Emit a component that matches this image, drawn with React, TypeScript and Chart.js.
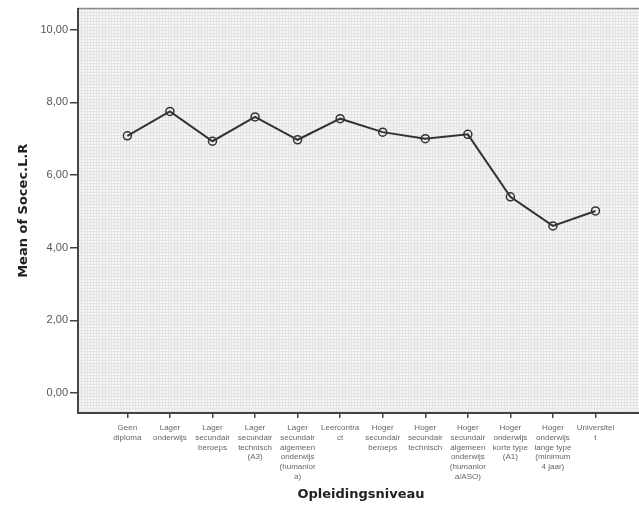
import React, { useEffect, useRef } from "react";
import { Chart, registerables } from "chart.js";
Chart.register(...registerables);

const categories: string[][] = [
  ["Geen", "diploma"],
  ["Lager", "onderwijs"],
  ["Lager", "secundair", "beroeps"],
  ["Lager", "secundair", "technisch", "(A3)"],
  ["Lager", "secundair", "algemeen", "onderwijs", "(humanior", "a)"],
  ["Leercontra", "ct"],
  ["Hoger", "secundair", "beroeps"],
  ["Hoger", "secundair", "technisch"],
  ["Hoger", "secundair", "algemeen", "onderwijs", "(humanior", "a/ASO)"],
  ["Hoger", "onderwijs", "korte type", "(A1)"],
  ["Hoger", "onderwijs", "lange type", "(minimum", "4 jaar)"],
  ["Universitei", "t"],
];
const values: number[] = [7.08, 7.75, 6.93, 7.6, 6.97, 7.55, 7.18, 7.0, 7.12, 5.4, 4.6, 5.01];
const yTickValues: number[] = [0, 2, 4, 6, 8, 10];
const yTitle = "Mean of Socec.L.R";
const xTitle = "Opleidingsniveau";

const W = 650;
const H = 513;

const bgPlugin = {
  id: "bgPattern",
  beforeDraw(chart: any) {
    const { ctx, chartArea } = chart;
    const { left, top, right, bottom } = chartArea;
    const pc = document.createElement("canvas");
    pc.width = 3;
    pc.height = 3;
    const p = pc.getContext("2d")!;
    p.fillStyle = "#f5f5f5";
    p.fillRect(0, 0, 3, 3);
    p.fillStyle = "#e4e4e4";
    p.fillRect(0, 0, 3, 1);
    p.fillRect(0, 0, 1, 3);
    ctx.save();
    ctx.fillStyle = ctx.createPattern(pc, "repeat");
    ctx.fillRect(left, top, right - left, bottom - top);
    ctx.strokeStyle = "#8a8a8a";
    ctx.lineWidth = 1.5;
    ctx.beginPath();
    ctx.moveTo(left, top);
    ctx.lineTo(right, top);
    ctx.stroke();
    ctx.restore();
  },
};

export default function App() {
  const ref = useRef<HTMLCanvasElement | null>(null);
  useEffect(() => {
    if (!ref.current) return;
    const chart = new Chart(ref.current, {
      type: "line",
      data: {
        datasets: [
          {
            data: values.map((v, i) => ({ x: i, y: v })),
            borderColor: "#333333",
            borderWidth: 2,
            pointRadius: 4,
            pointBorderWidth: 1.5,
            pointBorderColor: "#333333",
            pointBackgroundColor: "rgba(0,0,0,0)",
            tension: 0,
          },
        ],
      },
      options: {
        animation: false,
        responsive: false,
        layout: { padding: { top: 8, right: 6, left: 0, bottom: 0 } },
        plugins: { legend: { display: false }, tooltip: { enabled: false } },
        scales: {
          x: {
            type: "linear",
            min: -1.16,
            max: 12.14,
            afterBuildTicks: (scale: any) => {
              scale.ticks = categories.map((_, i) => ({ value: i }));
            },
            afterFit: (scale: any) => {
              scale.height = 100;
            },
            ticks: {
              autoSkip: false,
              maxRotation: 0,
              minRotation: 0,
              padding: 5,
              color: "#666666",
              font: { family: "Liberation Sans, Arial, sans-serif", size: 8, lineHeight: 1.22 },
              callback: (v: any) => categories[Math.round(Number(v))] ?? "",
            },
            grid: {
              drawOnChartArea: false,
              drawTicks: true,
              tickLength: 5,
              color: "#444444",
              lineWidth: 1.5,
            },
            border: { display: true, color: "#444444", width: 2 },
            title: {
              display: true,
              text: xTitle,
              color: "#222222",
              font: { family: "DejaVu Sans, sans-serif", size: 13, weight: "bold" },
              padding: { top: 0, bottom: 11 },
            },
          },
          y: {
            type: "linear",
            min: -0.55,
            max: 10.58,
            afterBuildTicks: (scale: any) => {
              scale.ticks = yTickValues.map((v) => ({ value: v }));
            },
            afterFit: (scale: any) => {
              scale.width = 78;
            },
            ticks: {
              padding: 2,
              color: "#555555",
              font: { family: "Liberation Sans, Arial, sans-serif", size: 11 },
              callback: (v: any) => Number(v).toFixed(2).replace(".", ","),
            },
            grid: {
              drawOnChartArea: false,
              drawTicks: true,
              tickLength: 8,
              color: "#444444",
              lineWidth: 1.5,
            },
            border: { display: true, color: "#444444", width: 2 },
            title: {
              display: true,
              text: yTitle,
              color: "#222222",
              font: { family: "DejaVu Sans, sans-serif", size: 13, weight: "bold" },
              padding: { top: 16, bottom: 0 },
            },
          },
        },
      },
      plugins: [bgPlugin],
    } as any);
    return () => chart.destroy();
  }, []);
  return (
    <div style={{ position: "absolute", left: 0, top: 0, width: 639, height: H, overflow: "hidden", background: "#fff" }}>
      <canvas ref={ref} width={W} height={H} style={{ display: "block", width: W, height: H }} />
    </div>
  );
}
